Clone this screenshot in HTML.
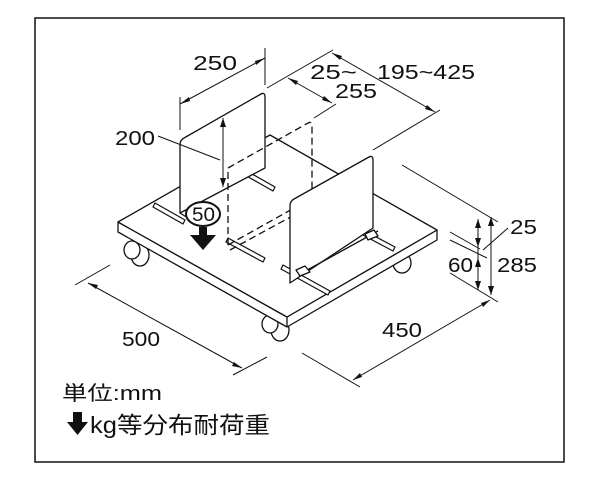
<!DOCTYPE html>
<html><head><meta charset="utf-8"><style>
html,body{margin:0;padding:0;background:#fff;}
svg{display:block;}
text{font-family:"Liberation Sans","Noto Sans CJK JP",sans-serif;fill:#111;}
</style></head><body>
<svg width="600" height="484" viewBox="0 0 600 484" xmlns="http://www.w3.org/2000/svg">
<rect x="35" y="18" width="529" height="444" fill="none" stroke="#111" stroke-width="1.5"/>
<g stroke="#111" stroke-width="1.3" fill="#fff" stroke-linejoin="round">
<ellipse cx="140" cy="255" rx="9" ry="11"/><ellipse cx="132" cy="250" rx="8" ry="9"/>
<ellipse cx="402" cy="263" rx="9" ry="10"/>
<ellipse cx="280" cy="330" rx="9" ry="11"/><ellipse cx="270" cy="324" rx="8" ry="9"/>
<polygon points="118,222 287,317 437,230 437,240 287,327 118,232"/>
<polygon points="118,222 270,135 437,230 287,317"/>
<line x1="287" y1="317" x2="287" y2="327"/>
<g stroke-width="1.2" fill="#fff">
<polygon points="155,203 185,220 183,224 153,207"/>
<polygon points="245,170 275,187 273,191 243,174"/>
<polygon points="228,238 265,258 263,262 226,242"/>
<polygon points="283,265 330,291 328,295 281,269"/>
<polygon points="363,230 395,247 393,251 361,234"/>
</g>
<path d="M180,213 L180,145 Q180,140 184,138 L261,94 Q265,92 265,97 L265,168 Z"/>
<line x1="180" y1="213" x2="188" y2="218"/>
<g fill="none" stroke-dasharray="7,4">
<path d="M228,245 L228,168 L308,123 Q312,121 312,126 L312,200"/>
<path d="M228,245 L312,198"/>
<path d="M230,250 L318,202"/>
</g>
<path d="M290,283 L290,206 Q290,201 294,199 L369,157 Q373,155 373,160 L373,228 Z"/>
<line x1="300" y1="274" x2="378" y2="231"/>
<path d="M296,270 L305,266 L310,272 L300,276 Z" fill="#fff"/>
<path d="M365,234 L374,230 L378,236 L368,240 Z" fill="#fff"/>
</g>
<ellipse cx="203" cy="214" rx="17" ry="12" fill="#fff" stroke="#111" stroke-width="2"/>
<text x="192" y="221" font-size="19" textLength="23" lengthAdjust="spacingAndGlyphs">50</text>
<rect x="199" y="227" width="8" height="9" fill="#111"/>
<polygon points="190,235 216,235 203,250" fill="#111"/>
<g stroke="#111" stroke-width="1" fill="none">
<line x1="180" y1="97" x2="180" y2="130"/><line x1="265" y1="48" x2="265" y2="85"/>
<line x1="180" y1="104" x2="265" y2="58"/>
<line x1="267" y1="88" x2="333" y2="50"/><line x1="373" y1="150" x2="440" y2="110"/>
<line x1="332" y1="53" x2="435" y2="112"/>
<line x1="314" y1="118" x2="336" y2="104"/>
<line x1="288" y1="78" x2="332" y2="103"/>
<line x1="223" y1="118" x2="223" y2="187"/>
<line x1="158" y1="136" x2="220" y2="160"/>
<line x1="402" y1="165" x2="498" y2="222"/>
<line x1="450" y1="232" x2="480" y2="249"/>
<line x1="450" y1="240" x2="487" y2="258"/>
<line x1="450" y1="273" x2="498" y2="302"/>
<line x1="478" y1="219" x2="478" y2="290"/>
<line x1="491" y1="217" x2="491" y2="295"/>
<line x1="508" y1="228" x2="483" y2="250"/>
<line x1="75" y1="285" x2="110" y2="265"/><line x1="233" y1="375" x2="267" y2="357"/>
<line x1="88" y1="283" x2="242" y2="368"/>
<line x1="302" y1="353" x2="360" y2="387"/>
<line x1="490" y1="300" x2="353" y2="380"/>
</g>
<g fill="#111">
<polygon points="180,104 189,97 190,101"/><polygon points="265,58 256,65 255,61"/>
<polygon points="332,53 342,56 340,60"/><polygon points="435,112 425,109 427,105"/>
<polygon points="288,78 298,81 296,85"/><polygon points="332,103 322,100 324,96"/>
<polygon points="223,118 220,127 226,127"/><polygon points="223,187 220,178 226,178"/>
<polygon points="478,219 475,228 481,228"/><polygon points="478,290 475,281 481,281"/>
<polygon points="478,247 475,238 481,238"/><polygon points="478,258 475,267 481,267"/>
<polygon points="491,217 488,226 494,226"/><polygon points="491,295 488,286 494,286"/>
<polygon points="88,283 98,285 96,289"/><polygon points="242,368 232,366 234,362"/>
<polygon points="490,300 483,307 481,303"/><polygon points="353,380 360,373 362,377"/>
</g>
<g font-size="20" lengthAdjust="spacingAndGlyphs">
<text x="193" y="70" textLength="44" lengthAdjust="spacingAndGlyphs">250</text>
<text x="377" y="79" textLength="98" lengthAdjust="spacingAndGlyphs">195~425</text>
<text x="310" y="79" textLength="47" lengthAdjust="spacingAndGlyphs">25~</text>
<text x="335" y="98" textLength="42" lengthAdjust="spacingAndGlyphs">255</text>
<text x="115" y="145" textLength="40" lengthAdjust="spacingAndGlyphs">200</text>
<text x="510" y="234" textLength="27" lengthAdjust="spacingAndGlyphs">25</text>
<text x="497" y="272" textLength="40" lengthAdjust="spacingAndGlyphs">285</text>
<text x="448" y="272" textLength="25" lengthAdjust="spacingAndGlyphs">60</text>
<text x="122" y="346" textLength="38" lengthAdjust="spacingAndGlyphs">500</text>
<text x="382" y="337" textLength="40" lengthAdjust="spacingAndGlyphs">450</text>
</g>
<text x="62" y="400" font-size="20" textLength="100" lengthAdjust="spacingAndGlyphs">単位:mm</text>
<text x="90" y="433" font-size="23" textLength="180" lengthAdjust="spacingAndGlyphs">kg等分布耐荷重</text>
<rect x="73" y="412" width="9" height="11" fill="#111"/>
<polygon points="67,422 88,422 77.5,435" fill="#111"/>
</svg>
</body></html>
